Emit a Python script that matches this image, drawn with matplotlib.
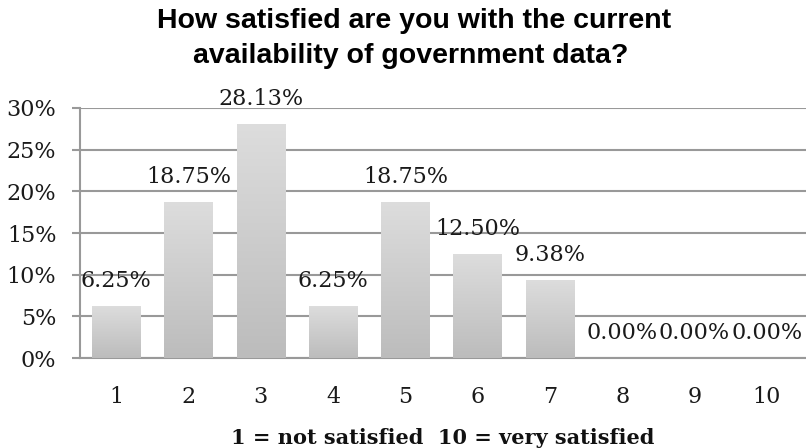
import numpy as np
import matplotlib.pyplot as plt
from matplotlib.colors import LinearSegmentedColormap
from matplotlib.ticker import PercentFormatter

ratings = [1, 2, 3, 4, 5, 6, 7, 8, 9, 10]
shares = [6.25, 18.75, 28.13, 6.25, 18.75, 12.50, 9.38, 0.00, 0.00, 0.00]
y_ticks = [0, 5, 10, 15, 20, 25, 30]

title_lines = ["How satisfied are you with the current",
               "availability of government data?"]
xlabel = "1 = not satisfied  10 = very satisfied"

serif = "DejaVu Serif"
W, H = 806, 448

fig = plt.figure(figsize=(W / 100, H / 100), dpi=100)
ax = fig.add_axes([80 / W, 90 / H, 726 / W, 250 / H])

bars = ax.bar(ratings, shares, width=0.67, color="none", edgecolor="none", zorder=3)

# vertical gray gradient inside each bar
cmap = LinearSegmentedColormap.from_list("g", ["#bcbcbc", "#dddddd"])
grad = np.linspace(0, 1, 256).reshape(-1, 1)
for b in bars:
    if b.get_height() <= 0:
        continue
    x0, w, h = b.get_x(), b.get_width(), b.get_height()
    im = ax.imshow(grad, extent=[x0, x0 + w, 0, h], origin="lower", cmap=cmap,
                   aspect="auto", zorder=3)
    im.set_clip_path(b)

for x, v in zip(ratings, shares):
    ax.annotate(f"{v:.2f}%", (x, v), xytext=(0, 13.5), textcoords="offset points",
                ha="center", va="baseline", fontsize=16, family=serif,
                color="#1a1a1a", zorder=4)

ax.set_xlim(0.5, 0.5 + 726 / 72.3)
ax.set_ylim(0, 30)
ax.set_yticks(y_ticks)
ax.yaxis.set_major_formatter(PercentFormatter(decimals=0))
ax.set_xticks(ratings)
ax.grid(axis="y", color="#999999", linewidth=1.5, zorder=0)
ax.set_axisbelow(True)

for s in ["top", "right"]:
    ax.spines[s].set_visible(False)
for s in ["left", "bottom"]:
    ax.spines[s].set_color("#999999")
    ax.spines[s].set_linewidth(1.5)

ax.tick_params(axis="y", length=6, width=1.5, color="#999999", pad=11)
ax.tick_params(axis="x", length=0, pad=20)
for lab in ax.get_xticklabels() + ax.get_yticklabels():
    lab.set_family(serif)
    lab.set_fontsize(16)
    lab.set_color("#1a1a1a")

fig.text(443 / W, 1 - 444 / H, xlabel, ha="center", va="baseline",
         family=serif, fontsize=15, fontweight="bold", color="#111111")
fig.text(414 / W, 1 - 28 / H, title_lines[0], ha="center", va="baseline",
         family="Liberation Sans", fontweight="bold", fontsize=20.5)
fig.text(411 / W, 1 - 63 / H, title_lines[1], ha="center", va="baseline",
         family="Liberation Sans", fontweight="bold", fontsize=20.5)

fig.savefig("out.png", dpi=100)
